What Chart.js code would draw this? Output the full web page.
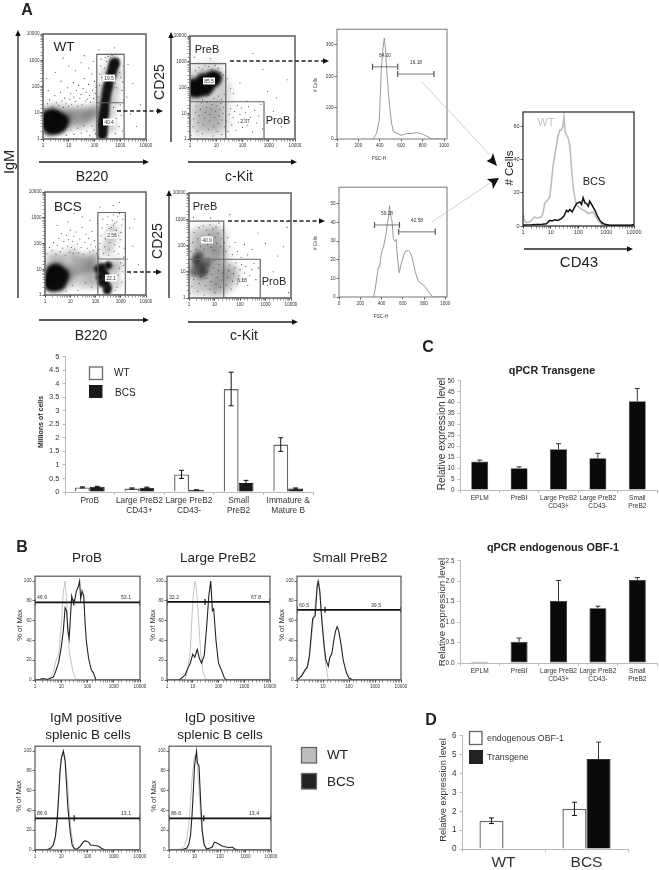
<!DOCTYPE html>
<html><head><meta charset="utf-8">
<script src="https://cdn.jsdelivr.net/npm/chart.js@4/dist/chart.umd.js"></script>
<style>
html,body{margin:0;padding:0;background:#fff}
#page{position:relative;width:659px;height:870px;overflow:hidden;background:#fff;filter:blur(.35px)}
canvas{position:absolute}
svg{position:absolute;left:0;top:0;pointer-events:none}
</style></head><body><div id="page"></div>
<script>
/* ---------- panel A: flow plots (estimated by eye) ---------- */
const wtB220Core=[[2,5],[3,5],[4,5],[2.5,3.5],[3,7],[2,7.5],[1.6,4],[4.5,3.5],[3.4,2.8],[2,2.6],[5.5,5],[1.4,6]];
const wtB220Streak=[[200,1.4],[210,2],[205,3],[220,4],[215,5.5],[230,8],[240,12],[250,18],[270,30],[290,50],[320,80],[350,120],[390,200],[450,300],[500,450],[560,650],[620,800]];
const wtB220Haze=[[8,8],[12,10],[18,9],[28,11],[40,9],[60,10],[90,12],[110,9],[1.5,2],[6,3],[9,4],[1.5,12],[3,14],[6,12],[10,6],[15,5],[25,4],[40,5],[60,6],[150,3],[420,3],[170,10],[400,10],[170,30],[500,30],[200,80],[600,80],[300,300],[800,300],[500,1000]];
const wtB220Dots=[[1.2,14],[1.5,22],[1.8,31],[2.4,17],[2.9,45],[3.3,24],[4.1,19],[4.8,60],[5.5,28],[6.2,16],[7,36],[7.8,22],[9,90],[9.8,18],[11,33],[12,55],[13,21],[15,140],[16,40],[18,27],[20,70],[22,18],[24,110],[27,35],[30,50],[33,20],[36,85],[40,200],[44,28],[48,60],[52,33],[58,120],[64,45],[70,25],[78,300],[85,70],[92,35],[100,160],[108,55],[115,95],[1.3,1.6],[8,1.4],[12,2.2],[16,1.5],[22,2.6],[30,1.7],[38,3.3],[50,2],[66,1.4],[80,3.1],[95,2.2],[110,1.6],[125,4.8],[135,16],[145,40],[155,110],[160,300],[170,600],[180,1100],[190,220],[210,75],[240,500],[260,1300],[280,180],[300,900],[340,1400],[380,1000],[420,1200],[480,1500],[520,180],[580,240],[640,130],[700,90],[780,500],[860,1100],[950,350],[1050,220],[1150,70],[1250,150],[1350,30],[1300,600],[700,6],[800,12],[900,3],[1000,20],[1100,8],[1200,2],[640,1.6],[560,16],[500,5],[1800,40],[2500,9],[3100,130],[4200,3],[6000,20],[2000,700],[40,1500],[10,600],[3,350],[6,1200],[150,2500],[600,3000],[90,900],[1.6,70],[5,160],[18,400],[30,800],[60,500],[1.4,200]];

const wtCd25Core=[[1.5,100],[2,120],[2.5,90],[3,150],[3,100],[4,130],[5,180],[6,200],[5,110],[8,180],[2,70],[1.3,70],[1.3,130],[4,80],[10,240],[7,260],[3,210]];
const wtCd25Haze=[[2,20],[4,20],[8,20],[14,20],[2,8],[4,8],[8,8],[14,8],[2,3],[4,3],[8,3],[14,3],[1.5,300],[4,400],[9,450],[14,120],[18,60]];
const wtCd25Dots=[[1.1,1.4],[1.3,3],[1.4,6],[1.6,11],[1.7,19],[1.9,2],[2.1,4.5],[2.3,8],[2.5,14],[2.7,25],[3,1.6],[3.2,3.6],[3.5,6.5],[3.8,11],[4.2,17],[4.6,27],[5,2.4],[5.4,5],[5.8,9],[6.3,15],[6.9,22],[7.5,1.3],[8.1,3],[8.8,7],[9.5,12],[10,19],[11,2],[12,4],[13,8],[14,14],[15,24],[16,1.5],[17,5.5],[18,10],[19,17],[21,3],[25,5],[28,2],[31,9],[35,15],[39,3.5],[44,7],[50,12],[56,2.2],[63,20],[70,4.5],[80,9],[90,16],[100,2.8],[115,6],[130,11],[150,3.4],[170,18],[200,7],[240,1.9],[290,13],[350,4.2],[420,8],[500,22],[580,2.5],[1.2,300],[1.6,450],[2.2,600],[3,520],[3.7,700],[5,650],[6.8,500],[9,720],[12,560],[15,380],[19,310],[22,180],[26,220],[35,90],[45,60],[80,150],[150,30],[600,500],[2000,40],[3000,3],[1500,12],[900,70],[5000,200],[250,2100],[1.5,1500],[6,1300],[1.2,36],[1.8,44],[3,33],[5,50],[8,38],[12,47],[16,34],[20,55]];

const bcsB220Core=[[1.8,5],[2.5,4],[3,6],[4,4],[2,8],[1.6,3],[3,9],[5,6],[2,2.5],[3.5,2.6]];
const bcsB220Gate=[[150,5],[200,8],[250,3],[300,2],[180,12],[130,10],[250,6],[320,14],[290,1.5],[180,3]];
const bcsB220Haze=[[8,8],[12,10],[18,7],[28,10],[40,9],[60,11],[85,13],[100,9],[1.5,13],[3,16],[6,13],[10,5],[9,3],[15,20],[25,25],[40,20],[65,22],[90,30],[2,30],[5,28],[12,40],[30,3],[60,4],[90,3],[500,9],[600,3],[700,15],[300,60],[400,150],[500,300]];
const bcsB220Dots=[[1.2,40],[1.5,70],[1.9,55],[2.2,110],[2.7,38],[3.1,85],[3.6,160],[4,48],[4.5,240],[5,66],[5.6,120],[6.3,36],[7,210],[7.8,80],[8.5,140],[9.3,46],[10,330],[11,70],[12,120],[13,42],[14,190],[15,60],[17,280],[19,95],[21,44],[24,150],[27,70],[30,420],[34,38],[38,110],[42,230],[47,65],[53,160],[60,48],[66,90],[74,300],[82,55],[90,130],[100,75],[112,40],[120,600],[30,1100],[8,700],[3,500],[60,800],[14,1500],[132,30],[140,60],[150,100],[165,200],[180,400],[195,900],[210,42],[230,75],[250,150],[270,280],[290,550],[310,1100],[330,35],[350,60],[370,110],[400,210],[430,420],[460,800],[500,1300],[540,50],[580,90],[620,170],[660,330],[700,700],[760,1150],[820,40],[880,75],[950,140],[1020,270],[1100,520],[1200,880],[1300,30],[1400,65],[900,1450],[580,620],[430,270],[350,380],[520,520],[640,240],[780,200],[250,6],[700,2],[800,6],[900,11],[1000,18],[1100,3.2],[1200,8],[1300,14],[600,1.5],[1800,25],[2400,7],[3000,80],[5000,15],[2200,400],[3500,900],[500,3000],[900,4000],[150,2600],[40,3],[70,2],[20,1.5],[12,2.4],[7,1.4]];

const bcsCd25Core=[[2,30],[3,15],[3,8],[4,11],[2,20],[5,22],[1.5,10],[2.5,40]];
const bcsCd25Haze=[[2,100],[4,100],[8,100],[14,90],[2,250],[5,300],[10,300],[15,220],[2,45],[6,50],[12,45],[18,50],[2,18],[6,18],[12,18],[18,14],[2,6],[6,6],[12,6],[18,6],[2,2.4],[6,2.4],[12,2.4],[18,2.4],[35,12],[50,8],[40,4]];
const bcsCd25Dots=[[1.1,1.5],[1.3,2.8],[1.5,5],[1.7,9],[1.9,16],[2.2,1.8],[2.5,3.6],[2.9,6.5],[3.2,12],[3.6,20],[4,1.3],[4.4,3],[4.9,5.5],[5.4,10],[6,17],[6.6,2.2],[7.3,4.2],[8,8],[8.8,14],[9.6,26],[10.5,1.6],[11.5,3.4],[12.5,6],[14,11],[15,19],[17,2.6],[19,4.8],[21,9],[23,15],[26,25],[29,3.1],[32,6],[36,11],[40,18],[45,2.2],[50,4.4],[56,8.5],[63,14],[70,22],[80,3.5],[90,7],[100,12],[115,19],[130,5],[150,9],[170,16],[200,3],[240,7],[290,12],[350,21],[420,5],[520,14],[1.2,60],[1.4,130],[1.6,320],[1.9,70],[2.2,180],[2.5,480],[2.9,90],[3.2,230],[3.6,560],[4,75],[4.4,140],[4.9,380],[5.4,110],[6,260],[6.6,620],[7.3,85],[8,170],[8.8,420],[9.6,65],[10.5,210],[11.5,500],[12.5,120],[14,300],[15,700],[17,90],[19,190],[21,380],[25,130],[28,60],[33,200],[40,90],[50,45],[65,130],[80,60],[110,35],[150,110],[200,44],[300,70],[500,300],[1000,120],[3000,40],[7000,500],[6500,800],[5000,90],[2000,10],[1200,3],[8000,1.6],[40,1500],[1.5,1200],[7,1100]];

const wtLargeGate=[[123,1],[123,1670],[1410,1670],[1410,1],[123,1],[123,24],[1410,24]];
const bcsLargeGate=[[124,1],[124,1600],[1520,1600],[1520,1],[124,1],[124,25],[1520,25]];
const wtPreGate=[[1,850],[23,850],[23,1],[660,1],[660,28],[1,28],[23,28]];
const bcsPreGate=[[1,850],[23,850],[23,1],[620,1],[620,30],[1,30],[23,30]];

const fscXTicks=[0,200,400,600,800,1000];
const fscWt=[[338,0],[370,19],[395,60],[414,221],[430,290],[442,322],[452,290],[464,221],[480,150],[495,94],[510,50],[527,24],[560,18],[600,12],[650,17],[700,18],[750,20],[800,15],[840,9],[887,0],[1020,0]];
const fscWtGateL=[[332,230],[567,230]];
const fscWtGateR=[[567,207],[906,207]];
const fscBcs=[[325,0],[340,4],[362,13],[370,16],[381,16],[400,24],[419,27],[441,33.5],[456,40],[466,43],[475,49],[485,44],[497,41.6],[512,31],[525,30],[537,31],[550,21],[566,13],[590,19],[622,24.5],[653,25],[668,24],[684,22],[720,13],[747,8.4],[780,7],[809,5.7],[840,3],[881,0],[1010,0]];
const fscBcsGateL=[[334,38.7],[569,38.7]];
const fscBcsGateR=[[562,35],[906,35]];

const cd43Wt=[[1,7.5],[1.1,4],[1.3,2],[1.8,2.5],[2.6,5.5],[3.3,4.8],[4.6,5.5],[5.3,8],[6,13.6],[7.5,15.5],[9.2,17.6],[10.5,26],[12,36],[15,46],[18,54],[21,58],[24,58],[27,60],[30,66],[33,57],[37,55],[43,53],[49,48],[55,36],[64,24],[74,17],[85,12.6],[110,11],[150,9.5],[180,9],[220,7.5],[270,8],[330,8.5],[410,6],[510,3.4],[640,1.5],[800,.5],[2000,.4],[10000,.6]];
const cd43Bcs=[[1,.6],[2,.7],[5,1],[7,1.4],[9,3.4],[11,3],[14,3.8],[18,3.4],[24,4.5],[30,6],[37,9.5],[42,8.6],[49,10],[59,8.5],[70,11],[85,13.6],[111,14.6],[128,13],[147,17],[170,14],[195,13.6],[225,12],[255,15],[300,13],[390,9.5],[480,6],[590,3.4],[720,1.8],[900,1],[1350,.4],[4000,.4],[8000,.5],[10000,.9]];

/* ---------- panel A: cell counts ---------- */
const countCategories=[["ProB"],["Large PreB2","CD43+"],["Large PreB2","CD43-"],["Small","PreB2"],["Immature &","Mature B"]];
const countWt=[.17,.13,.65,3.8,1.75];
const countBcs=[.19,.16,.07,.33,.13];
const countWtErr=[.02,.02,.15,.62,.25];
const countBcsErr=[.02,.02,.01,.1,.02];

/* ---------- panel B: overlays ---------- */
const proBWt=[[1,0],[2,1],[3,1],[4,4],[5,8],[6,18],[8,26],[10,55],[12,90],[14,100],[16,80],[18,50],[20,30],[24,18],[28,8],[35,1],[60,0],[10000,0]];
const proBBcs=[[1,0],[1.5,.5],[2,1.5],[3,.5],[5,3],[6,8],[8,18],[10,33],[12,50],[14,73],[16,70],[18,50],[20,42],[22,60],[25,85],[28,80],[32,80],[38,90],[45,95],[50,100],[55,82],[62,90],[72,85],[80,60],[90,40],[110,22],[140,10],[170,7],[210,0],[10000,0]];
const proBGate=[[1,78.5],[30,78.5],[10000,78.5]];
const largeWt=[[1,0],[5,.5],[6,8],[8,28],[10,80],[12,100],[14,92],[17,60],[20,30],[25,8],[32,1],[40,0],[10000,0]];
const largeBcs=[[1,0],[3,0],[5,5],[7,14],[8,17],[10,26],[12,23],[15,31],[18,22],[22,17],[28,25],[35,55],[42,85],[50,100],[58,70],[65,72],[80,40],[100,17],[130,10],[170,2],[200,0],[10000,0]];
const largeGate=[[1,79],[30,79],[10000,79]];
const smallWt=[[1,0],[2,8],[3,20],[4,55],[5,75],[6,96],[7,100],[8,85],[10,50],[12,20],[16,0],[10000,0]];
const smallBcs=[[1,0],[1.5,4],[2,10],[2.5,13],[3,25],[4,62],[5,65],[6,95],[6.5,100],[7.5,90],[9,60],[11,35],[13,20],[16,14],[18,22],[22,27],[26,40],[30,49],[35,54],[40,50],[50,35],[60,20],[80,7],[100,2],[140,0],[10000,0]];
const smallGate=[[1,71],[12,71],[10000,71]];
const igmWt=[[1,0],[4,1],[6,12],[8,55],[10,95],[12,100],[14,95],[17,70],[20,42],[24,18],[30,3],[40,0],[10000,0]];
const igmBcs=[[1,0],[3,0],[4,2],[5,5],[6,14],[7,30],[8,55],[9,80],[10,92],[12,100],[14,90],[16,65],[18,42],[22,18],[26,5],[32,1],[40,1],[50,3],[60,6],[75,9],[90,9],[110,8],[130,5],[170,4.5],[260,4],[330,2],[450,0],[10000,0]];
const igmGate=[[1,32],[31,32],[10000,32]];
const igdWt=[[1,0],[3,1],[4,4],[5,12],[6,25],[7,50],[8,72],[10,95],[11,97],[13,85],[15,60],[18,30],[22,8],[28,1],[35,0],[10000,0]];
const igdBcs=[[1,0],[3,0],[5,2],[6,6],[7,15],[8,35],[9,60],[10,85],[12,100],[13,88],[15,85],[17,55],[20,20],[24,5],[30,1],[40,2],[50,3],[60,8],[75,7],[90,6],[120,4],[170,3],[240,2.5],[300,3],[380,1],[500,0],[10000,0]];
const igdGate=[[1,32],[23,32],[10000,32]];

/* ---------- panel C / D ---------- */
const qpcrCategories=[["EPLM"],["PreBI"],["Large PreB2","CD43+"],["Large PreB2","CD43-"],["Small","PreB2"]];
const transgeneValues=[13,10,18.7,14.5,40.7];
const transgeneErr=[.7,.6,2.5,2.3,5.8];
const endogenousValues=[.03,.52,1.52,1.34,2.03];
const endogenousErr=[0,.09,.5,.05,.06];
const ratioCategories=["WT","BCS"];
const ratioEndogenous=[1.5,2.13];
const ratioTransgene=[.03,4.77];
const ratioEndogenousErr=[.15,.35];
const ratioTransgeneErr=[0,.9];

const decades=[1,10,100,1000,10000];
const FONT='"Liberation Sans",Arial,sans-serif';
Chart.defaults.font.family=FONT;
Chart.defaults.animation=false;
Chart.defaults.plugins.legend.display=false;
Chart.defaults.plugins.tooltip.enabled=false;
const page=document.getElementById('page');

const framePlugin={id:'frame',afterDatasetsDraw(c,a,o){
  if(!o.color)return;const g=c.ctx,r=c.chartArea;g.save();g.strokeStyle=o.color;g.lineWidth=o.width||1;
  g.strokeRect(r.left,r.top,r.right-r.left,r.bottom-r.top);g.restore();}};
const softPlugin={id:'soft',
  beforeDatasetDraw(c,a){const d=c.data.datasets[a.index];if(d.soft){c.ctx.save();c.ctx.filter='blur('+d.soft+'px)';}},
  afterDatasetDraw(c,a){const d=c.data.datasets[a.index];if(d.soft){c.ctx.restore();}}};
const errPlugin={id:'errs',afterDatasetsDraw(c){
  const g=c.ctx,y=c.scales.y;c.data.datasets.forEach((d,i)=>{if(!d.errs)return;
    const m=c.getDatasetMeta(i);g.save();g.strokeStyle=d.errColor||'#111';g.lineWidth=1;
    d.errs.forEach((e,k)=>{if(!e)return;const v=d.data[k],x=m.data[k].x,hi=y.getPixelForValue(v+e),lo=y.getPixelForValue(d.upperOnly?v:v-e);
      g.beginPath();g.moveTo(x,hi);g.lineTo(x,lo);g.moveTo(x-2.5,hi);g.lineTo(x+2.5,hi);
      if(!d.upperOnly){g.moveTo(x-2.5,lo);g.lineTo(x+2.5,lo);}g.stroke();});g.restore();});}};

function plot(r,m,cfg){
  const cv=document.createElement('canvas');
  const W=r.w+m.l+m.r,H=r.h+m.t+m.b;cv.width=W;cv.height=H;
  cv.style.left=(r.x-m.l)+'px';cv.style.top=(r.y-m.t)+'px';cv.style.width=W+'px';cv.style.height=H+'px';
  page.appendChild(cv);
  const o=cfg.options;o.responsive=false;o.devicePixelRatio=1;o.animation=false;
  o.layout={padding:{top:m.t,right:m.r,left:0,bottom:0}};
  o.scales.x.afterFit=s=>{s.height=m.b};
  o.scales.y.afterFit=s=>{s.width=m.l};
  cfg.plugins=[framePlugin,errPlugin,softPlugin];
  new Chart(cv.getContext('2d'),cfg);
}
function logAxis(size){return{type:'logarithmic',min:1,max:10000,
  border:{display:false},
  grid:{drawOnChartArea:false,tickLength:2.5,color:'#666',tickColor:c=>decades.includes(c.tick&&c.tick.value)?'#444':'#999'},
  ticks:{font:{size:size},color:'#333',padding:1,autoSkip:false,maxRotation:0,minRotation:0,includeBounds:false,
    callback:v=>decades.includes(v)?String(v):''}};}
function linAxis(min,max,step,size,fmt){return{type:'linear',min:min,max:max,
  border:{display:false},
  grid:{drawOnChartArea:false,tickLength:2.5,color:'#666'},
  ticks:{stepSize:step,font:{size:size},color:'#333',padding:1,includeBounds:false,autoSkip:false,maxRotation:0,minRotation:0,callback:fmt||(v=>String(v))}};}
const line=(data,color,w,caps)=>({type:'scatter',data:data,showLine:true,borderColor:color,borderWidth:w,tension:0,
  pointRadius:caps?3:0,pointStyle:'line',rotation:90,pointBorderColor:color,pointBorderWidth:caps?1.2:0,pointBackgroundColor:color});
const dots=(data,color,r,soft)=>({type:'scatter',data:data,showLine:false,pointRadius:r,pointBorderWidth:0,pointBackgroundColor:color,soft:soft||0});

function dotPlot(r,sets,size){
  plot(r,{l:21,r:10,t:5,b:12},{type:'scatter',data:{datasets:sets},options:{
    plugins:{frame:{color:'#666',width:1.6}},
    scales:{x:logAxis(size||4.6),y:logAxis(size||4.6)}}});
}
const GATE='#666',BLK='#0a0a0a';
const FINE='#3a3a3a';
dotPlot({x:43,y:32,w:103,h:107},[line(wtLargeGate,GATE,1.2),dots(wtB220Dots,FINE,.55),dots(wtB220Core,BLK,7,2.2),dots(wtB220Streak,'#111',5,1.5),dots(wtB220Haze,'rgba(70,70,70,.3)',6,3)]);
dotPlot({x:190,y:32,w:105,h:107},[line(wtPreGate,GATE,1.2),dots(wtCd25Dots,FINE,.55),dots(wtCd25Core,BLK,6,2),dots(wtCd25Haze,'rgba(80,80,80,.2)',9,4)]);
dotPlot({x:45,y:190,w:101,h:105},[line(bcsLargeGate,GATE,1.2),dots(bcsB220Dots,FINE,.55),dots(bcsB220Core,BLK,7,2.2),dots(bcsB220Gate,'#111',4.2,1.6),dots(bcsB220Haze,'rgba(70,70,70,.3)',6,3)]);
dotPlot({x:189,y:190,w:102,h:108},[line(bcsPreGate,GATE,1.2),dots(bcsCd25Dots,FINE,.55),dots(bcsCd25Core,'rgba(25,25,25,.55)',5,2.2),dots(bcsCd25Haze,'rgba(80,80,80,.26)',8,3.5)]);

function fsc(r,curve,gL,gR,xMax,yMax,yStep){
  const xAxis=linAxis(0,xMax,200,4.6);
  xAxis.afterBuildTicks=s=>{s.ticks=fscXTicks.map(v=>({value:v}));};
  plot(r,{l:14,r:10,t:5,b:12},{type:'scatter',data:{datasets:[line(gL,'#555',.8,true),line(gR,'#555',.8,true),line(curve,'#999',1)]},options:{
    plugins:{frame:{color:'#777',width:1}},
    scales:{x:xAxis,y:linAxis(0,yMax,yStep,4.6)}}});
}
fsc({x:337,y:29,w:110,h:110},fscWt,fscWtGateL,fscWtGateR,1028,350,100);
fsc({x:339,y:187,w:108,h:110},fscBcs,fscBcsGateL,fscBcsGateR,1016,59,10);

plot({x:523,y:112,w:111,h:114},{l:16,r:12,t:5,b:13},{type:'scatter',data:{datasets:[line(cd43Bcs,'#111',1.5),line(cd43Wt,'#bdbdbd',1.6)]},options:{
  plugins:{frame:{color:'#222',width:1.2}},
  scales:{x:logAxis(5.5),y:linAxis(0,69,20,5.5)}}});

function bars(r,m,labels,sets,yAxis,catPct,tickSize){
  plot(r,m,{type:'bar',data:{labels:labels,datasets:sets},options:{
    datasets:{bar:{categoryPercentage:catPct,barPercentage:1}},
    scales:{x:{type:'category',border:{color:'#bbb'},grid:{drawOnChartArea:false,tickLength:3,color:'#bbb'},
      ticks:{font:{size:tickSize},color:'#333',padding:1,autoSkip:false,maxRotation:0,minRotation:0}},y:yAxis}}});
}
const barY=(a,b,s,size,fmt)=>{const y=linAxis(a,b,s,size,fmt);y.border={display:true,color:'#bbb'};y.grid.color='#bbb';y.ticks.padding=3;return y;};
bars({x:65,y:354,w:248,h:138},{l:30,r:5,t:5,b:28},countCategories,[
  {label:'WT',data:countWt,backgroundColor:'#fff',borderColor:'#666',borderWidth:1.4,errs:countWtErr},
  {label:'BCS',data:countBcs,backgroundColor:'#1a1a1a',borderColor:'#1a1a1a',borderWidth:1,errs:countBcsErr}],
  barY(0,5,.5,7.5),.6,8.4);
bars({x:460,y:379,w:197,h:111},{l:20,r:2,t:5,b:24},qpcrCategories,[
  {label:'Transgene',data:transgeneValues,backgroundColor:'#0a0a0a',borderColor:'#333',borderWidth:.6,errs:transgeneErr,upperOnly:true,errColor:'#333'}],
  barY(0,50,5,6.4),.43,6.6);
bars({x:460,y:559,w:197,h:104},{l:20,r:2,t:5,b:24},qpcrCategories,[
  {label:'Endogenous',data:endogenousValues,backgroundColor:'#0a0a0a',borderColor:'#222',borderWidth:.8,borderSkipped:false,errs:endogenousErr,upperOnly:true,errColor:'#333'}],
  barY(0,2.5,.5,6.4,v=>v.toFixed(1)),.43,6.6);
bars({x:462,y:733,w:166,h:116},{l:20,r:8,t:5,b:21},ratioCategories,[
  {label:'endogenous OBF-1',data:ratioEndogenous,backgroundColor:'#fff',borderColor:'#666',borderWidth:1.4,errs:ratioEndogenousErr},
  {label:'Transgene',data:ratioTransgene,backgroundColor:'#0a0a0a',borderColor:'#333',borderWidth:.8,errs:ratioTransgeneErr,upperOnly:true,errColor:'#333'}],
  barY(0,6,1,8.2),.58,15.5);

function overlay(r,wt,bcs,gate){
  plot(r,{l:13,r:10,t:5,b:12},{type:'scatter',data:{datasets:[line(gate,'#111',1.7,true),line(bcs,'#222',1.1),line(wt,'#c4c4c4',1)]},options:{
    plugins:{frame:{color:'#555',width:1.2}},
    scales:{x:logAxis(4.6),y:linAxis(0,105,20,4.6)}}});
}
overlay({x:35,y:576,w:105,h:104},proBWt,proBBcs,proBGate);
overlay({x:167,y:576,w:103,h:104},largeWt,largeBcs,largeGate);
overlay({x:297,y:576,w:104,h:104},smallWt,smallBcs,smallGate);
overlay({x:35,y:746,w:105,h:104},igmWt,igmBcs,igmGate);
overlay({x:169,y:746,w:102,h:104},igdWt,igdBcs,igdGate);

/* ---------- overlay text and arrows ---------- */
const NS='http://www.w3.org/2000/svg';
const svg=document.createElementNS(NS,'svg');svg.setAttribute('width',659);svg.setAttribute('height',870);page.appendChild(svg);
function el(n,a){const e=document.createElementNS(NS,n);for(const k in a)e.setAttribute(k,a[k]);svg.appendChild(e);return e;}
function T(s,x,y,size,o){o=o||{};const e=el('text',{x:x,y:y,'font-size':size,'font-family':FONT,fill:o.c||'#222','font-weight':o.b?'bold':'normal','text-anchor':o.a||'middle','dominant-baseline':'central'});
  if(o.r)e.setAttribute('transform',`rotate(${o.r} ${x} ${y})`);e.textContent=s;return e;}
function tag(s,x,y){el('rect',{x:x-6,y:y-3.5,width:12,height:7,fill:'#fff'});T(s,x,y,5,{c:'#333'});}
function arrow(x1,y1,x2,y2,o){o=o||{};const w=o.w||1.3,h=o.h||5,a=Math.atan2(y2-y1,x2-x1),c=Math.cos(a),s=Math.sin(a);
  el('line',{x1:x1,y1:y1,x2:x2-c*h,y2:y2-s*h,stroke:'#222','stroke-width':w,'stroke-dasharray':o.d||''});
  const n=h*.55;el('polygon',{points:`${x2},${y2} ${x2-c*h*1.2-s*n},${y2-s*h*1.2+c*n} ${x2-c*h*1.2+s*n},${y2-s*h*1.2-c*n}`,fill:'#111'});}
function swatch(x,y,w,h,f){el('rect',{x:x,y:y,width:w,height:h,fill:f,stroke:'#666','stroke-width':1.3});}

T('A',27,9,16,{b:1});T('B',22,546,16,{b:1});T('C',428,346,16,{b:1});T('D',431,719,16,{b:1});
T('WT',64,46,13.5);T('BCS',68,206,13.5);T('PreB',207,49,11);T('ProB',278,120,11);T('PreB',205,206,11);T('ProB',274,281,11);
tag('19.5',109,78);tag('40.4',109,122);tag('85.5',209,81);T('2.37',245,121,5,{c:'#333'});
tag('2.56',112,235);tag('22.1',111,278);tag('40.9',207,240);T('6.18',242,280,5,{c:'#333'});
T('B220',92,176,14);T('c-Kit',239,176,14);T('B220',91,335,14);T('c-Kit',244,335,14);
T('IgM',9,162,14.5,{r:-90});T('CD25',159,82,14,{r:-90});T('CD25',157,241,14,{r:-90});
arrow(18,298,18,30);arrow(171,142,171,32);arrow(169,298,169,190);
arrow(39,162,149,162);arrow(188,162,297,162);arrow(39,320,149,320);arrow(188,322,298,322);
arrow(117,111,163,111,{d:'4 2.5',h:5});arrow(230,61,329,61,{d:'4 2.5',h:5});arrow(127,272,162,272,{d:'4 2.5',h:5});arrow(228,221,325,221,{d:'4 2.5',h:5});
T('# Cells',315,85,4.6,{r:-90,c:'#333'});T('# Cells',315,243,4.6,{r:-90,c:'#333'});
T('84.00',385,55,4.8,{c:'#333'});T('16.18',416,62,4.8,{c:'#333'});T('FSC-H',379,158,4.6,{c:'#333'});
T('59.28',387,213,4.8,{c:'#333'});T('42.58',417,220,4.8,{c:'#333'});T('FSC-H',381,316,4.6,{c:'#333'});
el('line',{x1:422,y1:82,x2:490,y2:155,stroke:'#bbb','stroke-width':.7});el('line',{x1:432,y1:222,x2:490,y2:183,stroke:'#bbb','stroke-width':.7});
el('polygon',{points:'497,166 486.5,161 491,158.5 493,153',fill:'#111'});el('polygon',{points:'499,178 487,179 492,183 493,189',fill:'#111'});
T('# Cells',509,168,11.5,{r:-90});T('WT',546,122,11,{c:'#c4c4c4'});T('BCS',594,181,11);
arrow(524,249,633,249,{w:1.6,h:5});T('CD43',579,261,15);
swatch(89.5,367,13,12.5,'#fff');el('rect',{x:89,y:385,width:13.5,height:13,fill:'#1a1a1a'});
T('WT',114,372,10,{a:'start'});T('BCS',115,392,10,{a:'start'});
T('Millions of cells',40,422,7,{r:-90,b:1});
T('qPCR Transgene',552,370,10.8,{b:1});T('qPCR endogenous OBF-1',553,547,10.8,{b:1});
T('Relative expression level',441,434,10.2,{r:-90,c:'#333'});T('Relative expression level',441,612,9.8,{r:-90,c:'#333'});T('Relative expression level',442,790,9.4,{r:-90,c:'#333'});
swatch(469.5,731.5,12.5,13,'#fff');el('rect',{x:469,y:750,width:14,height:14,fill:'#222'});
T('endogenous OBF-1',487,738,8.8,{a:'start',c:'#333'});T('Transgene',487,757,8.8,{a:'start',c:'#333'});
T('ProB',87,557,13.5);T('Large PreB2',218,557,13.5);T('Small PreB2',350,557,13.5);
T('IgM positive',86,717,13.5);T('splenic B cells',88,734,13.5);T('IgD positive',220,717,13.5);T('splenic B cells',220,734,13.5);
[[19,625],[152,625],[281,625],[18,796],[153,796]].forEach(p=>T('% of Max',p[0],p[1],7.6,{r:-90,c:'#333'}));
[['46.9',42,597],['53.1',126,597],['32.2',174,597],['67.8',256,597],['60.5',304,605],['39.5',376,605],['86.9',42,813],['13.1',126,813],['86.6',176,813],['13.4',254,813]].forEach(p=>T(p[0],p[1],p[2],5.2,{c:'#333'}));
swatch(301.5,747.5,15,15.5,'#bdbdbd');swatch(301.5,773.5,15,15.5,'#222');
T('WT',327,754,13.5,{a:'start'});T('BCS',327,781,13.5,{a:'start'});
</script></body></html>
